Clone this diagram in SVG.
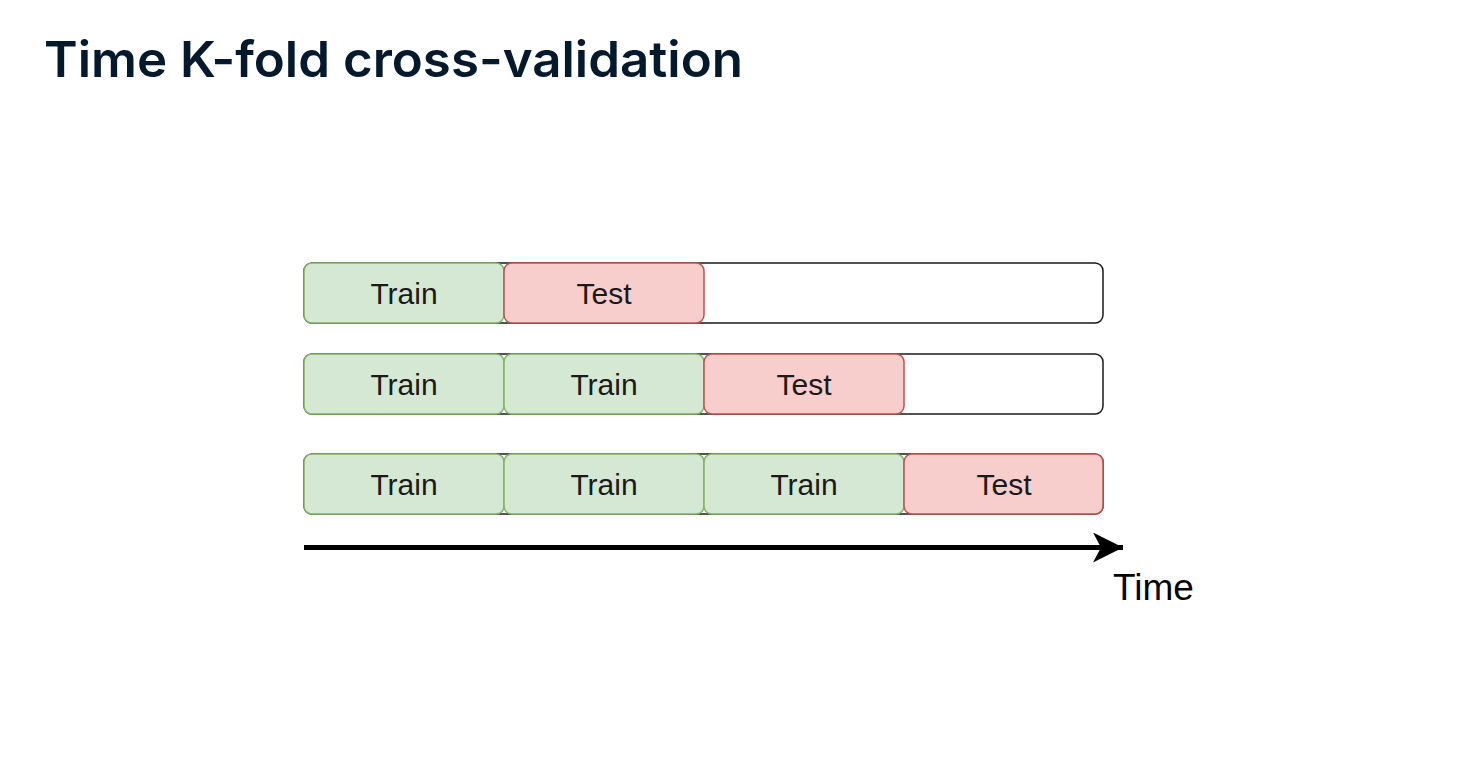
<svg xmlns="http://www.w3.org/2000/svg" width="1480" height="760" viewBox="0 0 1480 760">
<style>
.title{font-family:Inter,"Noto Sans",sans-serif;font-weight:600;font-size:50px;fill:#05192d}
.bg{fill:#fff;stroke:#1a1a1a;stroke-width:1.5}
.tr{fill:#d5e8d4;stroke:#82b366;stroke-width:1.5}
.te{fill:#f8cecc;stroke:#b85450;stroke-width:1.5}
.lbl{font-family:"Liberation Sans",Arial,sans-serif;font-size:30px;fill:#1a1a1a;text-anchor:middle}
</style>
<defs>
<marker id="ah" markerUnits="userSpaceOnUse" markerWidth="32" markerHeight="32" refX="30" refY="15" orient="auto">
<path d="M0,0 L30,15 L0,30 L8,15 Z" fill="#000"/>
</marker>
</defs>
<rect width="1480" height="760" fill="#fff"/>
<text class="title" x="44" y="77" textLength="699" lengthAdjust="spacingAndGlyphs">Time K-fold cross-validation</text>
<g id="row1">
<rect class="bg" x="304" y="263" width="799" height="60" rx="8"/>
<g id="r1c1"><rect class="tr" x="304" y="263" width="200" height="60" rx="8"/><text class="lbl" x="404" y="304">Train</text></g>
<g id="r1c2"><rect class="te" x="504" y="263" width="200" height="60" rx="8"/><text class="lbl" x="604" y="304">Test</text></g>
</g>
<g id="row2">
<rect class="bg" x="304" y="354" width="799" height="60" rx="8"/>
<g id="r2c1"><rect class="tr" x="304" y="354" width="200" height="60" rx="8"/><text class="lbl" x="404" y="395">Train</text></g>
<g id="r2c2"><rect class="tr" x="504" y="354" width="200" height="60" rx="8"/><text class="lbl" x="604" y="395">Train</text></g>
<g id="r2c3"><rect class="te" x="704" y="354" width="200" height="60" rx="8"/><text class="lbl" x="804" y="395">Test</text></g>
</g>
<g id="row3">
<rect class="bg" x="304" y="454" width="799" height="60" rx="8"/>
<g id="r3c1"><rect class="tr" x="304" y="454" width="200" height="60" rx="8"/><text class="lbl" x="404" y="495">Train</text></g>
<g id="r3c2"><rect class="tr" x="504" y="454" width="200" height="60" rx="8"/><text class="lbl" x="604" y="495">Train</text></g>
<g id="r3c3"><rect class="tr" x="704" y="454" width="200" height="60" rx="8"/><text class="lbl" x="804" y="495">Train</text></g>
<g id="r3c4"><rect class="te" x="904" y="454" width="199" height="60" rx="8"/><text class="lbl" x="1004" y="495">Test</text></g>
</g>
<g id="connectors">
<line x1="304" y1="547.5" x2="1123" y2="547.5" stroke="#000" stroke-width="5" marker-end="url(#ah)"/>
</g>
<text x="1113" y="600" font-family="'Liberation Sans',Arial,sans-serif" font-size="37" fill="#000">Time</text>
</svg>
